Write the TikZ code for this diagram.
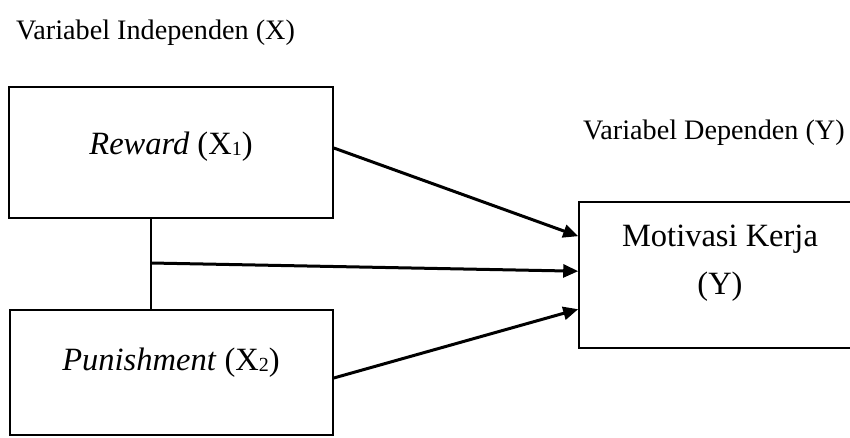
\documentclass[tikz,border=0pt]{standalone}
\usepackage{fontspec}
\setmainfont{Liberation Serif}
\usetikzlibrary{calc,arrows.meta}
\newcommand\subdigit[1]{\raisebox{-1pt}{\fontsize{20}{20}\selectfont #1}}
\tikzset{
  boxframe/.style={draw, line width=1.6pt, rectangle, inner sep=0pt},
  headlabel/.style={font=\fontsize{28.2}{30}\selectfont, inner sep=0pt},
  boxlabel/.style={font=\fontsize{32.5}{36}\selectfont, inner sep=0pt},
  conn/.style={line width=3pt, -{Triangle[length=15pt,width=13pt]}},
  plain/.style={line width=1.6pt}
}
\begin{document}
\begin{tikzpicture}[x=1pt,y=1pt]
\useasboundingbox (0,0) rectangle (850,437);
\clip (0,0) rectangle (850,437);
\fill[white] (0,0) rectangle (850,437);
% headings
\node[headlabel, anchor=base west] (hx) at (16,397) {Variabel Independen (X)};
\node[headlabel, anchor=base west] (hy) at (583,297) {Variabel Dependen (Y)};
% boxes
\node[boxframe, minimum width=324pt, minimum height=131pt] (r) at (171,284.5) {};
\node[boxframe, minimum width=323pt, minimum height=125pt] (p) at (171.5,64.5) {};
\node[boxframe, minimum width=300pt, minimum height=146pt] (m) at (729,162) {};
% labels
\node[boxlabel] (rt) at (171,290) {\textit{Reward} (X\subdigit{1})};
\node[boxlabel] (pt) at (171,74) {\textit{Punishment} (X\subdigit{2})};
\node[boxlabel, align=center] (mt) at (720,174) {Motivasi Kerja\\[12pt](Y)};
% connectors
\coordinate (j) at (151,174);
\draw[plain] (r.south -| j) -- (p.north -| j);
\draw[conn] ($(r.east)+(0,4.5)$) -- ($(m.north west)+(0,-35)$);
\draw[conn] (j) -- ($(m.north west)+(0,-70)$);
\draw[conn] ($(p.east)+(0,-5.5)$) -- ($(m.north west)+(0,-108)$);
\end{tikzpicture}
\end{document}
